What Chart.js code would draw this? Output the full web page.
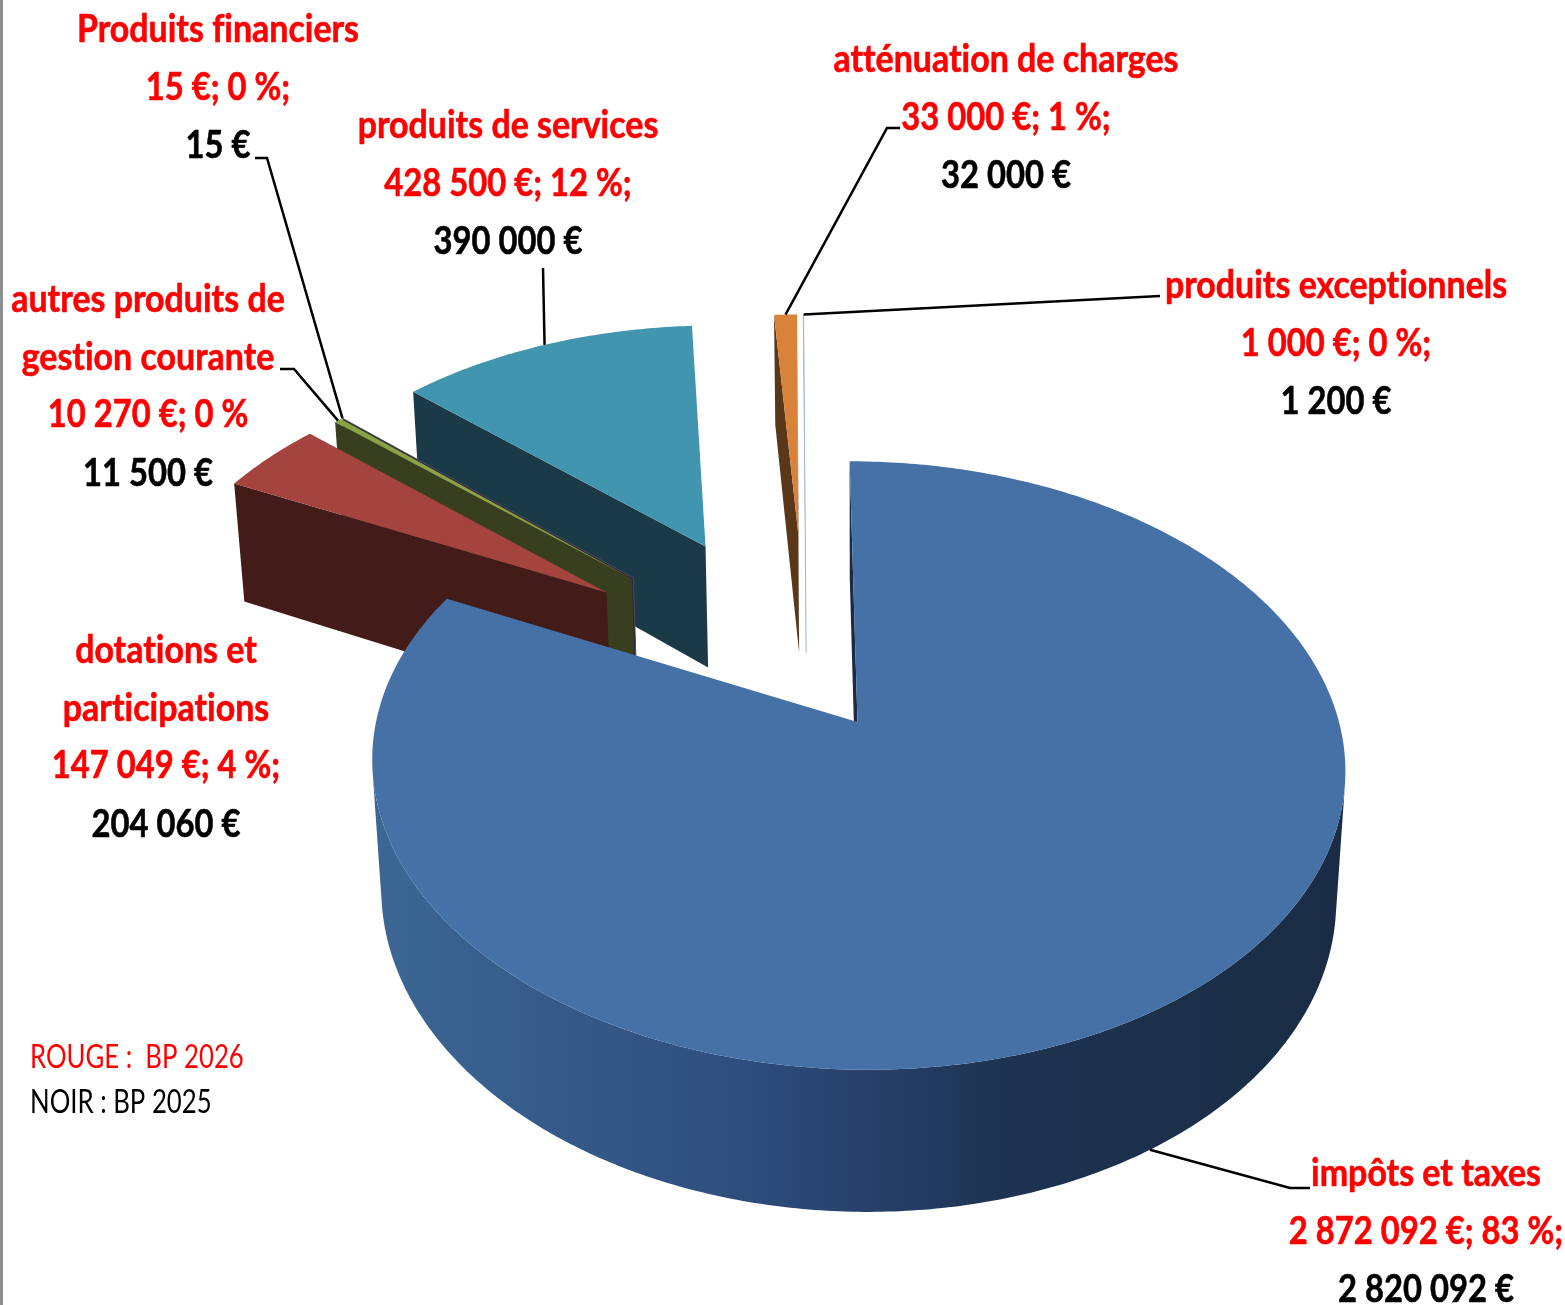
<!DOCTYPE html>
<html lang="fr">
<head>
<meta charset="utf-8">
<title>Recettes BP 2026</title>
<script src="https://cdn.jsdelivr.net/npm/chart.js@4"></script>
<style>
  html, body { margin: 0; padding: 0; background: #fff; overflow: hidden; }
  canvas { display: block; }
  #bord { position: absolute; left: 0; top: 0; width: 3px; height: 1305px; background: #8e8e8e; }
</style>
</head>
<body>
<canvas id="myChart" width="1565" height="1305"></canvas>
<div id="bord"></div>
<script>
// valeurs
const categories = [
  "impôts et taxes",
  "dotations et\nparticipations",
  "autres produits de\ngestion courante",
  "Produits financiers",
  "produits de services",
  "atténuation de charges",
  "produits exceptionnels",
];
const bp2026 = [2872092, 147049, 10270, 15, 428500, 33000, 1000];
const bp2025 = [2820092, 204060, 11500, 15, 390000, 32000, 1200];
const percents = [83, 4, 0, 0, 12, 1, 0];
const percentEnds = [";", ";", "", ";", ";", ";", ";"];
const legendLines = ["ROUGE :  BP 2026", "NOIR : BP 2025"];

// couleurs
const topColors = ["#4571a7", "#a5433f", "#8aa243", "#4a4a55", "#4195ae", "#d9823a", "#9db4d8"];
const sideColors = ["#1a2c45", "#431b18", "#373f1e", "#30243f", "#1b3a48", "#5a3718", "#9db4d8"];
const mainWallStops = [[0, "#3c6795"], [0.35, "#2f5080"], [0.45, "#2a4674"], [0.65, "#1d3351"], [1, "#1a2c45"]];

// explosion de chaque part, en % du rayon
const explode = [20, 53, 52, 52, 52.5, 53, 53];
const drawOrder = [4, 6, 5, 3, 2, 1, 0];

// projection en perspective du plan du camembert
const cam = { cx: 857.5, cy: 722, a: 481.5, b: 298, s: -9, k: 0.143, m: 0.0187, d: 131 };

// position du texte : x centre, y de la premiere ligne, puis coude du trait
const labelPos = [
  { x: 1426, y: 1186, leader: [[1310, 1188], [1290, 1188]], bottom: true },
  { x: 166, y: 663 },
  { x: 148, y: 312, leader: [[280, 369], [294, 369]] },
  { x: 218, y: 42, leader: [[255, 158], [267, 158]] },
  { x: 508, y: 138, leader: [[543, 268]] },
  { x: 1006, y: 72, leader: [[900, 128], [887, 128]] },
  { x: 1336, y: 298, leader: [[1160, 296]] },
];
const lineGap = 57.5;
const labelFont = 'bold 39px Lato, "Liberation Sans", sans-serif';
const nameSqueeze = 0.87;
const valueSqueeze = 0.84;
const legendFont = '33px Lato, "Liberation Sans", sans-serif';
const legendSqueeze = 0.78;

function fmt(v) {
  return String(v).replace(/\B(?=(\d{3})+$)/g, " ");
}

function offsetOf(el) {
  const mid = (el.startAngle + el.endAngle) / 2;
  const e = el.options.offset / 100;
  return { x: Math.cos(mid) * e, y: -Math.sin(mid) * e };
}

function project(origin, x, y, z) {
  const px = x - origin.x;
  const py = y - origin.y;
  const w = 1 + cam.k * py + cam.m * z;
  return {
    x: cam.cx + (cam.a * px + cam.s * py) / w,
    y: cam.cy + (-cam.b * py + cam.d * z) / w,
  };
}

function trace(ctx, pts) {
  ctx.beginPath();
  pts.forEach((p, i) => (i ? ctx.lineTo(p.x, p.y) : ctx.moveTo(p.x, p.y)));
  ctx.closePath();
}

function isFacing(a, b, c, d) {
  const pts = [a, b, c, d];
  let sum = 0;
  pts.forEach((p, i) => {
    const q = pts[(i + 1) % 4];
    sum += p.x * q.y - q.x * p.y;
  });
  return sum < 0;
}

function drawSlice(ctx, el, i, origin) {
  const off = offsetOf(el);
  const sweep = el.endAngle - el.startAngle;
  const steps = Math.max(2, Math.ceil(sweep * 90));
  const outline = [{ x: off.x, y: off.y }];
  for (let n = 0; n <= steps; n++) {
    const ang = el.startAngle + (sweep * n) / steps;
    outline.push({ x: off.x + Math.cos(ang), y: off.y - Math.sin(ang) });
  }
  const top = outline.map((p) => project(origin, p.x, p.y, 0));
  const low = outline.map((p) => project(origin, p.x, p.y, 1));
  const last = outline.length - 1;

  // parois planes : du centre au bord, puis du bord au centre
  [[0, 1], [last, 0]].forEach(([a, b]) => {
    if (!isFacing(top[a], top[b], low[b], low[a])) return;
    ctx.fillStyle = sideColors[i];
    trace(ctx, [top[a], top[b], low[b], low[a]]);
    ctx.fill();
  });

  // bord arrondi, d'un seul tenant pour eviter les raccords
  let rimStyle = sideColors[i];
  if (i === 0) {
    const xs = top.map((p) => p.x);
    const grad = ctx.createLinearGradient(Math.min(...xs), 0, Math.max(...xs), 0);
    mainWallStops.forEach((s) => grad.addColorStop(s[0], s[1]));
    rimStyle = grad;
  }
  let run = [];
  const flush = () => {
    if (run.length > 1) {
      ctx.fillStyle = rimStyle;
      trace(ctx, run.map((n) => top[n]).concat(run.map((n) => low[n]).reverse()));
      ctx.fill();
    }
    run = [];
  };
  for (let n = 1; n < last; n++) {
    if (isFacing(top[n], top[n + 1], low[n + 1], low[n])) {
      if (!run.length) run.push(n);
      run.push(n + 1);
    } else {
      flush();
    }
  }
  flush();

  ctx.fillStyle = el.options.backgroundColor;
  trace(ctx, top);
  ctx.fill();

  // les parts trop fines pour etre remplies restent visibles en filet
  if (sweep < 0.005) {
    ctx.strokeStyle = el.options.backgroundColor;
    ctx.lineWidth = 1;
    ctx.beginPath();
    ctx.moveTo(top[1].x, top[1].y);
    ctx.lineTo(top[0].x, top[0].y);
    ctx.lineTo(low[0].x, low[0].y);
    ctx.stroke();
  }
}

function drawLeader(ctx, el, i, origin) {
  const pos = labelPos[i];
  if (!pos.leader) return;
  const off = offsetOf(el);
  const mid = (el.startAngle + el.endAngle) / 2;
  const end = project(origin, off.x + Math.cos(mid), off.y - Math.sin(mid), pos.bottom ? 1 : 0);
  ctx.strokeStyle = "#000";
  ctx.lineWidth = 2.5;
  ctx.beginPath();
  pos.leader.forEach((p, n) => (n ? ctx.lineTo(p[0], p[1]) : ctx.moveTo(p[0], p[1])));
  ctx.lineTo(end.x, end.y);
  ctx.stroke();
}

function squeezedText(ctx, text, x, y, squeeze, weight) {
  ctx.save();
  ctx.translate(x, y);
  ctx.scale(squeeze, 1);
  ctx.fillText(text, 0, 0);
  if (weight) {
    ctx.strokeStyle = ctx.fillStyle;
    ctx.lineWidth = weight;
    ctx.strokeText(text, 0, 0);
  }
  ctx.restore();
}

function drawLabel(ctx, i) {
  const pos = labelPos[i];
  const names = categories[i].split("\n");
  const n = names.length;
  ctx.font = labelFont;
  ctx.textAlign = "center";
  ctx.textBaseline = "alphabetic";
  ctx.fillStyle = "#ff0000";
  names.forEach((t, k) => squeezedText(ctx, t, pos.x, pos.y + k * lineGap, nameSqueeze, 0.6));
  squeezedText(ctx, `${fmt(bp2026[i])} €; ${percents[i]} %${percentEnds[i]}`, pos.x, pos.y + n * lineGap, valueSqueeze, 0.6);
  ctx.fillStyle = "#000";
  squeezedText(ctx, `${fmt(bp2025[i])} €`, pos.x, pos.y + (n + 1) * lineGap + 1, valueSqueeze, 0.6);
}

const pie3d = {
  id: "pie3d",
  beforeDatasetDraw(chart, args) {
    const ctx = chart.ctx;
    const arcs = args.meta.data;
    const origin = offsetOf(arcs[0]);
    drawOrder.forEach((i) => drawSlice(ctx, arcs[i], i, origin));
    return false;
  },
  afterDraw(chart) {
    const ctx = chart.ctx;
    const arcs = chart.getDatasetMeta(0).data;
    const origin = offsetOf(arcs[0]);
    arcs.forEach((el, i) => drawLeader(ctx, el, i, origin));
    ctx.textRendering = "optimizeSpeed"; // pas de ligatures fi / ti
    categories.forEach((c, i) => drawLabel(ctx, i));
    ctx.font = legendFont;
    ctx.textAlign = "left";
    ctx.fillStyle = "#ff0000";
    squeezedText(ctx, legendLines[0], 30, 1068, legendSqueeze);
    ctx.fillStyle = "#000";
    squeezedText(ctx, legendLines[1], 30, 1113, legendSqueeze);
  },
};

new Chart(document.getElementById("myChart"), {
  type: "pie",
  data: {
    labels: categories.map((c) => c.replace("\n", " ")),
    datasets: [
      {
        label: "BP 2026",
        data: bp2026,
        backgroundColor: topColors,
        borderWidth: 0,
        offset: explode,
      },
    ],
  },
  options: {
    responsive: false,
    animation: false,
    events: [],
    plugins: { legend: { display: false }, tooltip: { enabled: false } },
  },
  plugins: [pie3d],
});
</script>
</body>
</html>
